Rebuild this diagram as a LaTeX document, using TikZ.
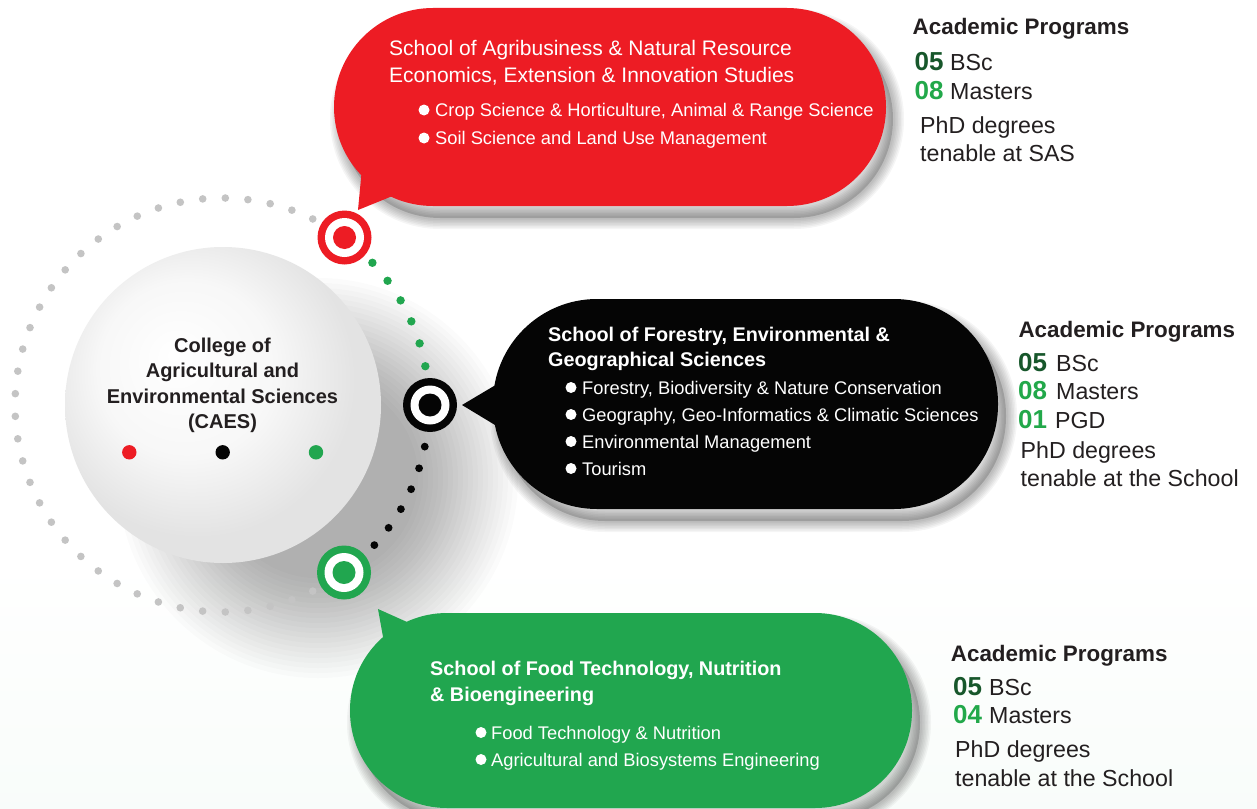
\documentclass[tikz,border=0pt]{standalone}
\usepackage{fontspec}
\setmainfont{Liberation Sans}
\definecolor{cred}{HTML}{ED1C24}
\definecolor{cgreen}{HTML}{21A64F}
\definecolor{cdkgreen}{HTML}{17572B}
\definecolor{cltgreen}{HTML}{22A84A}
\definecolor{ctext}{HTML}{231F20}
\definecolor{cgray}{HTML}{C4C4C4}
\definecolor{cblack}{HTML}{050505}
\pgfdeclareradialshading{sphereshade}{\pgfpoint{-8bp}{8bp}}{color(0bp)=(white); color(14bp)=(white!97!black); color(25bp)=(white!89!black); color(50bp)=(white!89!black)}
\newcommand\bubbleshadow[2]{%
  \begin{scope}[shift={#1}]
    \fill[black, opacity=0.16] #2;
    \foreach \w in {22,19,...,4} {\draw[line width=\w, black, opacity=0.04] #2;}
  \end{scope}}
\newcommand\target[3]{%
  \node[circle, fill=#2, minimum size=54, inner sep=0pt] (#1) at (#3) {};
  \fill[white] (#1) circle (19.5);
  \fill[#2] (#1) circle (11.5);}
\tikzset{
  lbl/.style={inner sep=0pt, anchor=base west},
  wtitle/.style={lbl, text=white, font=\fontsize{21}{25}\selectfont},
  wbold/.style={lbl, text=white, font=\bfseries\fontsize{19.8}{24}\selectfont},
  wbul/.style={lbl, text=white, font=\fontsize{18.3}{22}\selectfont},
  aphead/.style={lbl, text=ctext, font=\bfseries\fontsize{22.4}{26}\selectfont},
  apnum/.style={lbl, font=\bfseries\fontsize{26}{30}\selectfont},
  aptext/.style={lbl, text=ctext, font=\fontsize{23.2}{27}\selectfont},
  ctitle/.style={inner sep=0pt, anchor=base, text=ctext, font=\bfseries\fontsize{20}{24}\selectfont},
  bdot/.style={fill=white},
}
\begin{document}
\begin{tikzpicture}[x=1pt,y=-1pt]
\useasboundingbox (0,0) rectangle (1257,808);
\fill[white] (0,0) rectangle (1257,808);
\shade[top color=white, bottom color=cgreen!3!white] (0,560) rectangle (1257,808);

% shadows of the bubbles
\bubbleshadow{(7,12)}{[rounded corners=99] (334,8) rectangle (886,206)}
\bubbleshadow{(8,12)}{[rounded corners=104] (493,299) rectangle (998,509)}
\bubbleshadow{(8,12)}{[rounded corners=97] (350,613) rectangle (912,808)}

% shadow of the sphere
\foreach \r in {100,105,...,200} {\fill[black, opacity=0.016] (318,478) circle (\r);}

% dotted ring
\foreach \i in {0,...,37} {\fill[cgray] ({222+207*cos(64+\i*6.27)},{405-207*sin(64+\i*6.27)}) circle (3.8);}
\foreach \i in {0,...,5} {\fill[cgreen] ({222+207*cos(43.4-\i*6.52)},{405-207*sin(43.4-\i*6.52)}) circle (4.2);}
\foreach \i in {0,...,5} {\fill[cblack] ({222+207*cos(-11.6-\i*6.2)},{405-207*sin(-11.6-\i*6.2)}) circle (3.9);}

% targets
\target{tred}{cred}{344.5,237.5}
\target{tblack}{cblack}{430,405}
\target{tgreen}{cgreen}{344,572.5}

% bubbles
\fill[cred] [rounded corners=99] (334,8) rectangle (886,206);
\fill[cred] (362,168) -- (358,210) -- (395,195) -- cycle;
\fill[cblack] [rounded corners=104] (493,299) rectangle (998,509);
\fill[cblack] (499,383) -- (462,405) -- (500,428) -- cycle;
\fill[cgreen] [rounded corners=97] (350,613) rectangle (912,808);
\fill[cgreen] (378,609) -- (416,626) -- (385,648) -- cycle;

% sphere
\node[circle, minimum size=316, inner sep=0pt, shade, shading=sphereshade] (caes) at (223,405) {};
\node[ctitle] (c1) at (222.5,352) {College of};
\node[ctitle] (c2) at (222.5,377) {Agricultural and};
\node[ctitle] (c3) at (222.5,403) {Environmental Sciences};
\node[ctitle] (c4) at (222.5,428) {(CAES)};
\fill[cred] (129.3,452.3) circle (7.2);
\fill[cblack] (222.7,452.3) circle (7.2);
\fill[cgreen] (316,452.3) circle (7.2);

% red bubble text
\node[wtitle] (r1) at (389,56) {School of Agribusiness \& Natural Resource};
\node[wtitle] (r2) at (389,82) {Economics, Extension \& Innovation Studies};
\fill[bdot] (424,110) circle (5.5);
\node[wbul] (r3) at (435,116) {Crop Science \& Horticulture, Animal \& Range Science};
\fill[bdot] (424,138) circle (5.5);
\node[wbul] (r4) at (435,144) {Soil Science and Land Use Management};

% black bubble text
\node[wbold] (b1) at (548,341) {School of Forestry, Environmental \&};
\node[wbold] (b2) at (548,366) {Geographical Sciences};
\foreach \y/\t [count=\k] in {394/{Forestry, Biodiversity \& Nature Conservation},421/{Geography, Geo-Informatics \& Climatic Sciences},448/Environmental Management,475/Tourism} {
  \fill[bdot] (571,\y-6.5) circle (5.5);
  \node[wbul] (bb\k) at (582,\y) {\t};
}

% green bubble text
\node[wbold] (g1) at (430,675) {School of Food Technology, Nutrition};
\node[wbold] (g2) at (430,701) {\& Bioengineering};
\fill[bdot] (481,732.5) circle (5.5);
\node[wbul] (g3) at (491,739) {Food Technology \& Nutrition};
\fill[bdot] (481,759.5) circle (5.5);
\node[wbul] (g4) at (491,766) {Agricultural and Biosystems Engineering};

% academic programs 1
\node[aphead] (a1) at (912.5,35) {Academic Programs};
\node[apnum, text=cdkgreen] (a1n1) at (914.5,70.7) {05};
\node[aptext] (a1t1) at (950,70.7) {BSc};
\node[apnum, text=cltgreen] (a1n2) at (914.5,99.3) {08};
\node[aptext] (a1t2) at (950,99.3) {Masters};
\node[aptext] (a1p1) at (920,133.3) {PhD degrees};
\node[aptext] (a1p2) at (920,161.7) {tenable at SAS};

% academic programs 2
\node[aphead] (a2) at (1018.3,337.3) {Academic Programs};
\node[apnum, text=cdkgreen] (a2n1) at (1018,371.7) {05};
\node[aptext] (a2t1) at (1056,371.7) {BSc};
\node[apnum, text=cltgreen] (a2n2) at (1018,399.3) {08};
\node[aptext] (a2t2) at (1056,399.3) {Masters};
\node[apnum, text=cltgreen] (a2n3) at (1018,428.3) {01};
\node[aptext] (a2t3) at (1055,428.3) {PGD};
\node[aptext] (a2p1) at (1020.5,458.3) {PhD degrees};
\node[aptext] (a2p2) at (1020.5,486.7) {tenable at the School};

% academic programs 3
\node[aphead] (a3) at (950.7,661.7) {Academic Programs};
\node[apnum, text=cdkgreen] (a3n1) at (953,695) {05};
\node[aptext] (a3t1) at (989,695) {BSc};
\node[apnum, text=cltgreen] (a3n2) at (953,723.3) {04};
\node[aptext] (a3t2) at (989,723.3) {Masters};
\node[aptext] (a3p1) at (955,757.7) {PhD degrees};
\node[aptext] (a3p2) at (955,786) {tenable at the School};
\end{tikzpicture}
\end{document}
